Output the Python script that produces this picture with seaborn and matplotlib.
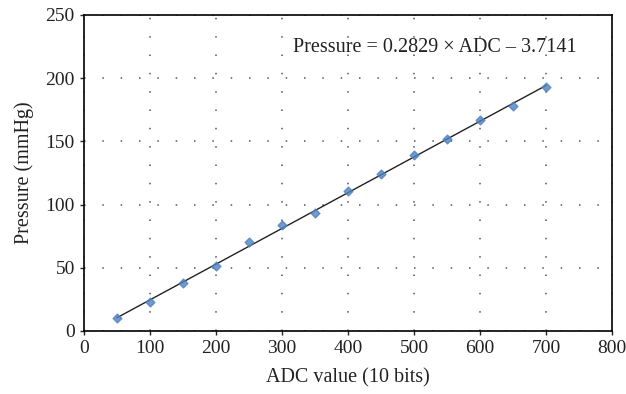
import numpy as np
import pandas as pd
import seaborn as sns
import matplotlib.pyplot as plt

adc = [50, 100, 150, 200, 250, 300, 350, 400, 450, 500, 550, 600, 650, 700]
pressure = [10, 23, 38, 51, 70, 84, 93, 111, 124, 139, 152, 167, 178, 193]
xticks = [0, 100, 200, 300, 400, 500, 600, 700, 800]
yticks = [0, 50, 100, 150, 200, 250]

df = pd.DataFrame({"ADC": adc, "Pressure": pressure})

sns.set_style("ticks")
plt.rcParams['font.family'] = ['Liberation Serif', 'DejaVu Serif']

fig = plt.figure(figsize=(6.26, 3.94), dpi=100)
ax = fig.add_axes([0.134, 0.160, 0.844, 0.802])

sns.regplot(data=df, x="ADC", y="Pressure", ci=None, ax=ax, marker="D",
            scatter_kws={"color": "#4f81bd", "s": 20, "zorder": 3},
            line_kws={"color": "#222222", "lw": 1.0})

ax.set_xlim(0, 800)
ax.set_ylim(0, 250)
ax.set_xticks(xticks)
ax.set_yticks(yticks)
ax.grid(True, linestyle=(0, (1, 11)), color="#555555", lw=1.1)
for s in ax.spines.values():
    s.set_visible(True)
    s.set_color("black")
    s.set_linewidth(1.2)
ax.tick_params(direction="out", length=3, width=1, labelsize=14, colors="#222222")
ax.set_xlabel("ADC value (10 bits)", fontsize=14.5, labelpad=8, color="#222222")
ax.set_ylabel("Pressure (mmHg)", fontsize=14.5, labelpad=8, color="#222222")
ax.text(317, 224, "Pressure = 0.2829 \u00d7 ADC \u2013 3.7141", fontsize=14.5,
        ha="left", va="center", color="#222222")

fig.savefig("out.png", dpi=100)
